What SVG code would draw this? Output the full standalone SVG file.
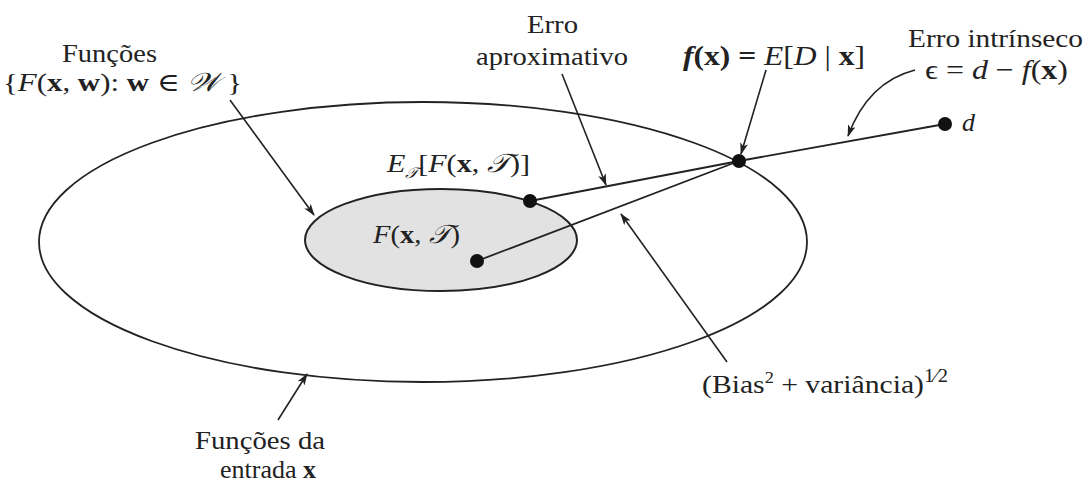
<svg xmlns="http://www.w3.org/2000/svg" width="1091" height="484" viewBox="0 0 1091 484">
<style>
text{font-family:"Liberation Serif","DejaVu Serif",serif;font-size:26px;fill:#222}
.i{font-style:italic}
.b{font-weight:bold}
.ln{stroke:#222;stroke-width:1.8;fill:none}
.ar{stroke:#222;stroke-width:1.6;fill:none;marker-end:url(#ah)}
.dot{fill:#111}
</style>
<defs>
<marker id="ah" markerWidth="12" markerHeight="8" refX="11" refY="4" orient="auto" markerUnits="userSpaceOnUse">
<path d="M0,0 L12,4 L0,8 L3,4 Z" fill="#222"/>
</marker>
</defs>
<rect width="1091" height="484" fill="#fff"/>
<g id="outer"><ellipse cx="423" cy="242" rx="384" ry="140" class="ln"/></g>
<g id="inner"><ellipse cx="441" cy="240" rx="136" ry="51" fill="#e2e2e2" stroke="#222" stroke-width="2"/></g>
<g id="connectors">
<line x1="530" y1="201" x2="739" y2="161" class="ln"/>
<line x1="477" y1="261" x2="739" y2="161" class="ln"/>
<line x1="739" y1="161" x2="945" y2="124" class="ln"/>
<line x1="230" y1="100" x2="314" y2="215" class="ar"/>
<line x1="562" y1="74" x2="606" y2="185" class="ar"/>
<line x1="766" y1="70" x2="741" y2="154" class="ar"/>
<path d="M915,70 Q868,82 848,136" class="ar"/>
<line x1="727" y1="362" x2="621" y2="214" class="ar"/>
<line x1="278" y1="420" x2="307" y2="374" class="ar"/>
</g>
<g id="points">
<circle cx="530" cy="201" r="7" class="dot"/>
<circle cx="477" cy="261" r="7" class="dot"/>
<circle cx="739" cy="161" r="7" class="dot"/>
<circle cx="945" cy="124" r="7" class="dot"/>
</g>
<g id="labels">
<text x="62" y="62" textLength="95" lengthAdjust="spacingAndGlyphs">Funções</text>
<text x="3" y="91" textLength="239" lengthAdjust="spacingAndGlyphs">{<tspan class="i">F</tspan>(<tspan class="b">x</tspan>, <tspan class="b">w</tspan>): <tspan class="b">w</tspan> ∈ <tspan class="i">𝒲</tspan> }</text>
<text x="527" y="33" textLength="51" lengthAdjust="spacingAndGlyphs">Erro</text>
<text x="476" y="65" textLength="152" lengthAdjust="spacingAndGlyphs">aproximativo</text>
<text x="683" y="65" style="font-size:28px" textLength="182" lengthAdjust="spacingAndGlyphs"><tspan class="i b">f</tspan><tspan class="b">(x) = </tspan><tspan class="i">E</tspan><tspan>[</tspan><tspan class="i">D</tspan><tspan> | </tspan><tspan class="b">x</tspan>]</text>
<text x="908" y="47" textLength="175" lengthAdjust="spacingAndGlyphs">Erro intrínseco</text>
<text x="925" y="79" style="font-size:28px" textLength="143" lengthAdjust="spacingAndGlyphs">ϵ = <tspan class="i">d</tspan> − <tspan class="i">f</tspan>(<tspan class="b">x</tspan>)</text>
<text x="962" y="131" class="i">d</text>
<text x="387" y="172" textLength="143" lengthAdjust="spacingAndGlyphs"><tspan class="i">E</tspan><tspan class="i" dy="6" style="font-size:15px">𝒯</tspan><tspan dy="-6">[</tspan><tspan class="i">F</tspan>(<tspan class="b">x</tspan>, <tspan class="i">𝒯</tspan>)]</text>
<text x="373" y="243" textLength="87" lengthAdjust="spacingAndGlyphs"><tspan class="i">F</tspan>(<tspan class="b">x</tspan>, <tspan class="i">𝒯</tspan>)</text>
<text x="702" y="393" textLength="246" lengthAdjust="spacingAndGlyphs">(Bias<tspan dy="-10" style="font-size:16px">2</tspan><tspan dy="10"> + variância)</tspan><tspan dy="-11" style="font-size:18px">1⁄2</tspan></text>
<text x="195" y="449" textLength="130" lengthAdjust="spacingAndGlyphs">Funções da</text>
<text x="268" y="478" text-anchor="middle">entrada <tspan class="b">x</tspan></text>
</g>
</svg>
